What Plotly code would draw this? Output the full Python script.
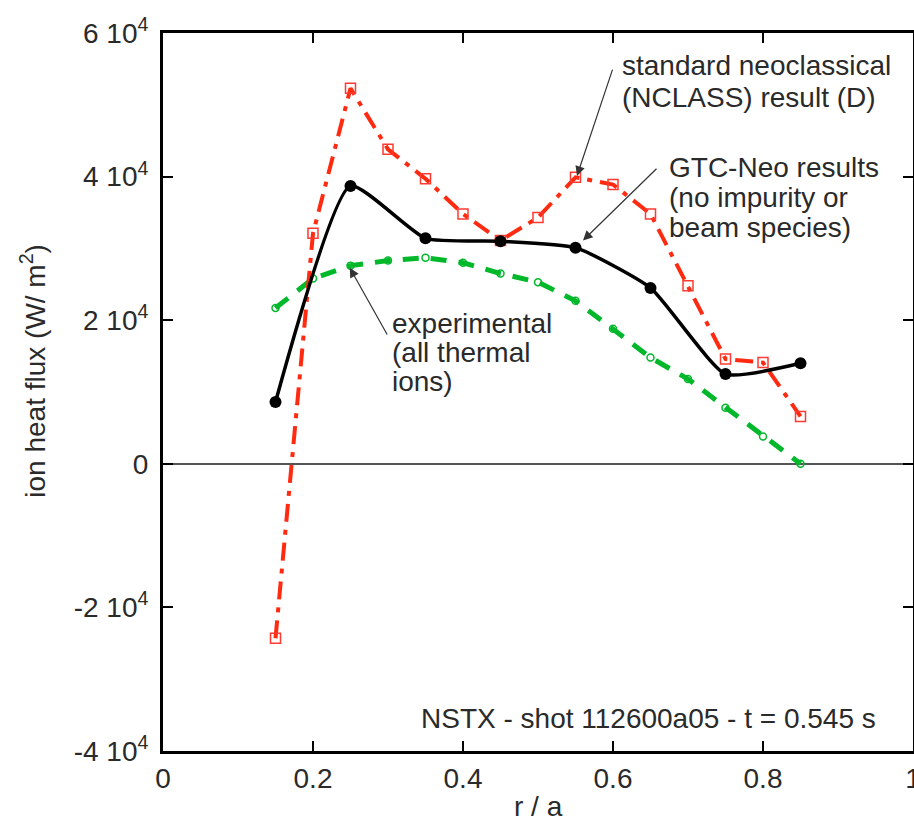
import plotly.graph_objects as go

# GTC-Neo (black, filled circles)
r_gtc = [0.15, 0.25, 0.35, 0.45, 0.55, 0.65, 0.75, 0.85]
q_gtc = [8600, 38700, 31400, 31000, 30100, 24500, 12500, 14000]

# NCLASS (red, open squares)
r_ncl = [0.15, 0.2, 0.25, 0.3, 0.35, 0.4, 0.45, 0.5, 0.55, 0.6, 0.65, 0.7, 0.75, 0.8, 0.85]
q_ncl = [-24300, 32100, 52300, 43800, 39700, 34800, 31100, 34300, 39900, 38900, 34800, 24800, 14600, 14100, 6600]

# experimental (green, open circles)
r_exp = [0.15, 0.2, 0.25, 0.3, 0.35, 0.4, 0.45, 0.5, 0.55, 0.6, 0.65, 0.7, 0.75, 0.8, 0.85]
q_exp = [21700, 25800, 27600, 28300, 28700, 28000, 26500, 25300, 22700, 18800, 14800, 11800, 7800, 3800, 0]

x_ticks = [0, 0.2, 0.4, 0.6, 0.8, 1]
x_labels = ["0", "0.2", "0.4", "0.6", "0.8", "1"]
y_ticks = [-40000, -20000, 0, 20000, 40000, 60000]
y_labels = ["-4 10<sup>4</sup>", "-2 10<sup>4</sup>", "0",
            "2 10<sup>4</sup>", "4 10<sup>4</sup>", "6 10<sup>4</sup>"]

police = "Liberation Sans, Arial, Helvetica, sans-serif"
gris = "#2a2a2a"

fig = go.Figure()

fig.add_trace(go.Scatter(
    x=r_exp, y=q_exp, mode="lines+markers", name="experimental",
    line=dict(color="#00b82a", width=5, dash="16px,12px"),
    marker=dict(symbol="circle-open", size=7, color="#00b82a", line=dict(width=1.5)),
))
fig.add_trace(go.Scatter(
    x=r_ncl, y=q_ncl, mode="lines+markers", name="NCLASS",
    line=dict(color="#ff2a10", width=4, dash="18px,8px,5px,8px"),
    marker=dict(symbol="square-open", size=10, color="#ff3a30", line=dict(width=1.5)),
))
fig.add_trace(go.Scatter(
    x=r_gtc, y=q_gtc, mode="lines+markers", name="GTC-Neo",
    line=dict(color="black", width=3.5, shape="spline", smoothing=0.5),
    marker=dict(symbol="circle", size=12, color="black"),
))

# texte des annotations, une ligne par annotation
lignes = [
    ("standard neoclassical", 0.609, 55500),
    ("(NCLASS) result (D)", 0.609, 51000),
    ("GTC-Neo results", 0.672, 41300),
    ("(no impurity or", 0.672, 37100),
    ("beam species)", 0.672, 32900),
    ("experimental", 0.303, 19600),
    ("(all thermal", 0.303, 15500),
    ("ions)", 0.303, 11400),
    ("NSTX - shot 112600a05 - t = 0.545 s", 0.341, -35500),
]
for txt, xa, ya in lignes:
    fig.add_annotation(x=xa, y=ya, text=txt, showarrow=False, xanchor="left",
                       yanchor="middle", font=dict(family=police, size=28, color=gris))

fleches = [
    (0.552, 40100, 0.600, 55100),
    (0.560, 31100, 0.660, 41300),
    (0.249, 27300, 0.300, 17800),
]
for xh, yh, xt, yt in fleches:
    fig.add_annotation(x=xh, y=yh, ax=xt, ay=yt, axref="x", ayref="y", text="",
                       showarrow=True, arrowhead=2, arrowsize=1.6, arrowwidth=1.2,
                       arrowcolor="#333")

fig.add_annotation(xref="paper", yref="paper", x=-0.173, y=0.53, textangle=-90,
                   xanchor="center", yanchor="middle",
                   text="ion heat flux (W/ m<sup>2</sup>)", showarrow=False,
                   font=dict(family=police, size=28, color=gris))
fig.add_annotation(xref="paper", yref="paper", x=0.5, y=-0.077, text="r / a",
                   showarrow=False, xanchor="center", yanchor="middle",
                   font=dict(family=police, size=28, color=gris))

fig.update_xaxes(range=[0, 1], tickvals=x_ticks, ticktext=x_labels,
                 showline=True, mirror="ticks", linecolor="black", linewidth=3,
                 ticks="inside", ticklen=10, tickwidth=2, tickcolor="black",
                 showgrid=False, zeroline=False, ticklabeloverflow="allow",
                 automargin=False,
                 tickfont=dict(family=police, size=28, color=gris))
fig.update_yaxes(range=[-40000, 60000], tickvals=y_ticks, ticktext=y_labels,
                 showline=True, mirror="ticks", linecolor="black", linewidth=3,
                 ticks="inside", ticklen=10, tickwidth=2, tickcolor="black",
                 showgrid=False, zeroline=True, zerolinecolor="#555", zerolinewidth=2,
                 ticklabelstandoff=6, ticklabeloverflow="allow", automargin=False,
                 tickfont=dict(family=police, size=28, color=gris))

fig.update_layout(width=914, height=823, showlegend=False,
                  margin=dict(l=163, r=1, t=33, b=72, autoexpand=False),
                  plot_bgcolor="white", paper_bgcolor="white")

# la page doit faire exactement la taille de la figure
page_css = ("document.documentElement.style.overflow = 'hidden';"
            "document.body.style.margin = '0px';"
            "document.body.style.overflow = 'hidden';"
            "document.body.style.height = '823px';")
fig.write_html("out.html", post_script=page_css, config={"displayModeBar": False})
